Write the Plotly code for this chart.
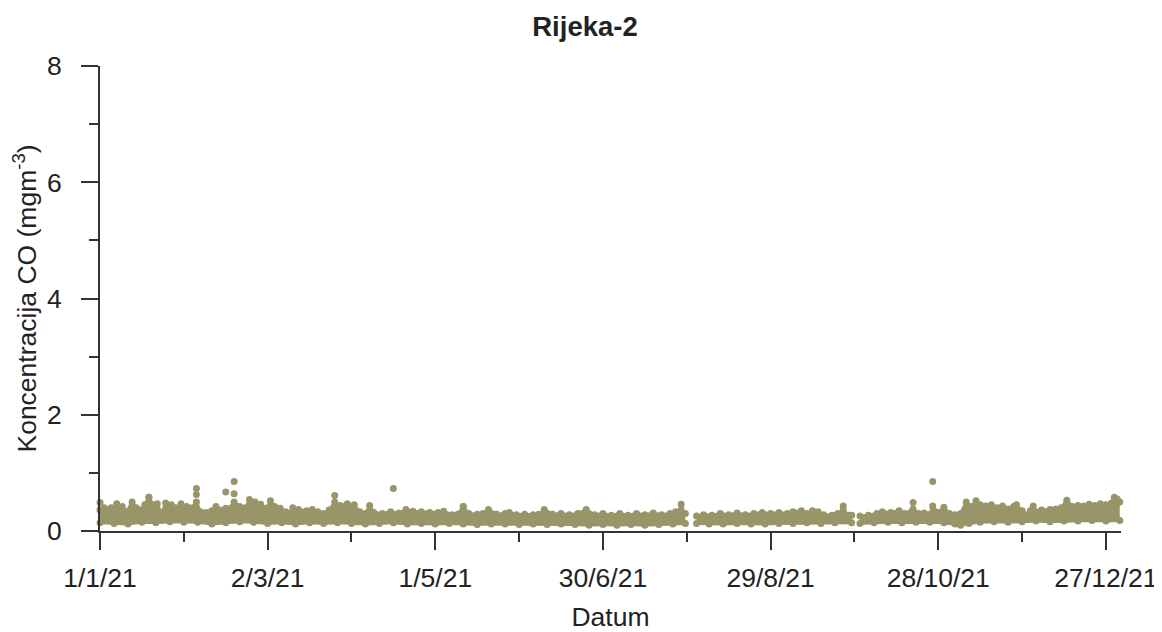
import plotly.graph_objects as go
import pandas as pd

# ---- data (day offset from 1 Jan 2021, CO in mg/m3) ----
upper_day = [0, 1.5, 4, 6, 8, 9.5, 11.5, 13, 14.5, 16, 17.5, 19, 20.5, 22, 23.5, 25.5, 27, 29, 31, 33,
             34.5, 36, 38, 40, 41.5, 43, 45, 47, 48, 50, 52, 53.5, 55.5, 57.5, 59.5, 61, 62.5, 64.5, 66.5,
             69, 71, 74, 76, 78, 80, 82, 84, 86, 88.5, 91, 93, 95, 96.5, 98, 101, 104, 107, 109.5, 112,
             115, 118, 121, 123, 126, 128, 130, 132, 135, 137, 139, 142, 145, 146.5, 149, 152, 155, 157,
             159, 162, 165, 168, 171, 174, 177, 180, 183, 186, 189, 192, 195, 198, 201, 204, 206, 208,
             209.5,
             213.5, 216, 219, 222, 225, 228, 231, 234, 237, 240, 243, 246, 248, 251, 253, 255, 257, 259,
             262, 264, 266, 268, 269,
             272, 275, 278, 280, 283, 286, 288, 291, 293, 295, 297, 298, 300, 302, 304, 306, 308, 310,
             312, 313.5, 315, 317, 319, 321, 323, 325, 327, 328, 330, 331, 333, 335, 337, 340, 342, 344,
             346, 348, 350, 352, 354, 356, 358, 360, 362, 363, 364, 364.95]
upper_val = [0.36, 0.40, 0.40, 0.47, 0.42, 0.33, 0.50, 0.40, 0.36, 0.45, 0.58, 0.45, 0.47, 0.30, 0.48,
             0.45, 0.40, 0.47, 0.42, 0.40, 0.50, 0.33, 0.32, 0.35, 0.42, 0.36, 0.39, 0.40, 0.50, 0.42,
             0.40, 0.54, 0.50, 0.46, 0.39, 0.52, 0.42, 0.39, 0.33, 0.33, 0.37, 0.35, 0.37, 0.33, 0.30,
             0.36, 0.50, 0.44, 0.47, 0.45, 0.33, 0.30, 0.44, 0.32, 0.30, 0.33, 0.31, 0.37, 0.34, 0.33,
             0.32, 0.32, 0.34, 0.28, 0.29, 0.42, 0.30, 0.29, 0.30, 0.37, 0.29, 0.30, 0.32, 0.28, 0.29,
             0.28, 0.29, 0.37, 0.29, 0.30, 0.28, 0.30, 0.37, 0.28, 0.30, 0.27, 0.30, 0.27, 0.30, 0.28,
             0.31, 0.28, 0.30, 0.33, 0.36, 0.30,
             0.26, 0.28, 0.27, 0.30, 0.28, 0.31, 0.28, 0.30, 0.32, 0.30, 0.32, 0.30, 0.33, 0.35, 0.30,
             0.35, 0.33, 0.28, 0.27, 0.30, 0.36, 0.27, 0.27,
             0.26, 0.27, 0.30, 0.33, 0.32, 0.35, 0.30, 0.38, 0.30, 0.31, 0.29, 0.43, 0.32, 0.41, 0.30,
             0.28, 0.30, 0.50, 0.42, 0.52, 0.45, 0.43, 0.45, 0.40, 0.43, 0.38, 0.42, 0.45, 0.35, 0.28,
             0.35, 0.33, 0.36, 0.37, 0.38, 0.40, 0.53, 0.42, 0.44, 0.43, 0.46, 0.44, 0.47, 0.45, 0.48,
             0.58, 0.55, 0.50]

lower_day = [0, 5, 10, 15, 20, 25, 30, 35, 40, 45, 50, 55, 60, 65, 70, 75, 80, 85, 90, 95, 100, 105,
             110, 115, 120, 125, 130, 135, 140, 145, 150, 155, 160, 165, 170, 175, 180, 185, 190, 195,
             200, 205, 209.5,
             213.5, 218, 223, 228, 233, 238, 243, 248, 253, 258, 263, 269,
             272, 277, 282, 287, 292, 297, 302, 306, 308, 311, 315, 320, 325, 330, 335, 340, 345, 350,
             355, 360, 364.95]
lower_val = [0.14, 0.13, 0.12, 0.15, 0.14, 0.16, 0.15, 0.15, 0.12, 0.14, 0.16, 0.15, 0.13, 0.14, 0.12,
             0.14, 0.13, 0.14, 0.13, 0.12, 0.13, 0.14, 0.12, 0.13, 0.12, 0.13, 0.12, 0.11, 0.12, 0.12,
             0.11, 0.12, 0.11, 0.12, 0.11, 0.10, 0.11, 0.10, 0.11, 0.10, 0.11, 0.12, 0.13,
             0.13, 0.12, 0.12, 0.13, 0.12, 0.12, 0.13, 0.13, 0.14, 0.13, 0.14, 0.14,
             0.13, 0.14, 0.15, 0.14, 0.15, 0.15, 0.14, 0.12, 0.10, 0.13, 0.15, 0.16, 0.15, 0.16, 0.17,
             0.16, 0.17, 0.17, 0.18, 0.17, 0.18]

spike_day = [0, 17.5, 34.5, 34.5, 45, 48, 48, 69, 84, 105, 130, 208, 266, 291, 298, 334]
spike_val = [0.49, 0.58, 0.63, 0.73, 0.67, 0.85, 0.64, 0.40, 0.61, 0.73, 0.42, 0.46, 0.43, 0.49, 0.85, 0.43]

segments = [(0, 209.5), (213.5, 269.0), (272.0, 365.0)]

tick_days = [0, 60, 120, 180, 240, 300, 360]
tick_labels = ['1/1/21', '2/3/21', '1/5/21', '30/6/21', '29/8/21', '28/10/21', '27/12/21']
minor_days = [30, 90, 150, 210, 270, 330]

title_text = 'Rijeka-2'
x_title = 'Datum'
y_title = 'Koncentracija CO (mgm<sup>-3</sup>)'

# ---- styling ----
COLOR = '#989668'
TEXT = '#222222'
AXIS = '#333333'
FONT = 'Liberation Sans, Arial, sans-serif'
start = pd.Timestamp('2021-01-01')


def to_dates(days):
    return [start + pd.Timedelta(days=d) for d in days]


fig = go.Figure()
for a, b in segments:
    ld = [d for d in lower_day if a <= d <= b]
    lv = [v for d, v in zip(lower_day, lower_val) if a <= d <= b]
    ud = [d for d in upper_day if a <= d <= b]
    uv = [v for d, v in zip(upper_day, upper_val) if a <= d <= b]
    fig.add_trace(go.Scatter(x=to_dates(ld), y=lv, mode='lines+markers',
                             line=dict(color=COLOR, width=3),
                             marker=dict(color=COLOR, size=7),
                             cliponaxis=False, showlegend=False, hoverinfo='skip'))
    fig.add_trace(go.Scatter(x=to_dates(ud), y=uv, mode='lines+markers', fill='tonexty',
                             fillcolor=COLOR, line=dict(color=COLOR, width=3),
                             marker=dict(color=COLOR, size=7),
                             cliponaxis=False, showlegend=False))

fig.add_trace(go.Scatter(x=to_dates(spike_day), y=spike_val, mode='markers',
                         marker=dict(color=COLOR, size=7), cliponaxis=False, showlegend=False))

# the page body adds an 8px offset, so the figure is 8px smaller and margins shifted
fig.update_layout(
    width=1154, height=624,
    margin=dict(l=92, r=41, t=58, b=101, autoexpand=False),
    paper_bgcolor='white', plot_bgcolor='white',
    font=dict(family=FONT, size=26.5, color=TEXT),
    title=dict(text='<b>' + title_text + '</b>', xref='container', x=0.5, xanchor='center',
               yref='container', y=0.970, yanchor='middle', automargin=False,
               font=dict(size=27.5, color=TEXT, family=FONT)),
    showlegend=False,
)

fig.update_xaxes(
    type='date', automargin=False,
    range=[start, start + pd.Timedelta(days=365.4)],
    tickmode='array', tickvals=to_dates(tick_days), ticktext=tick_labels,
    ticks='outside', ticklen=17, tickwidth=2, tickcolor=AXIS,
    showline=True, linecolor=AXIS, linewidth=2,
    showgrid=False, zeroline=False,
    ticklabelstandoff=5,
    minor=dict(tickmode='array', tickvals=to_dates(minor_days), ticks='outside',
               ticklen=9, tickwidth=2, tickcolor=AXIS, showgrid=False),
    title=dict(text=x_title, standoff=18, font=dict(size=26.5, color=TEXT)),
)

fig.update_yaxes(
    range=[0, 8], automargin=False,
    tickmode='array', tickvals=[0, 2, 4, 6, 8],
    ticks='outside', ticklen=17, tickwidth=2, tickcolor=AXIS,
    showline=True, linecolor=AXIS, linewidth=2,
    showgrid=False, zeroline=False,
    ticklabelstandoff=14,
    minor=dict(tickmode='array', tickvals=[1, 3, 5, 7], ticks='outside',
               ticklen=9, tickwidth=2, tickcolor=AXIS, showgrid=False),
    title=dict(text=y_title, standoff=3, font=dict(size=26.5, color=TEXT)),
)

fig.write_html('out.html')
